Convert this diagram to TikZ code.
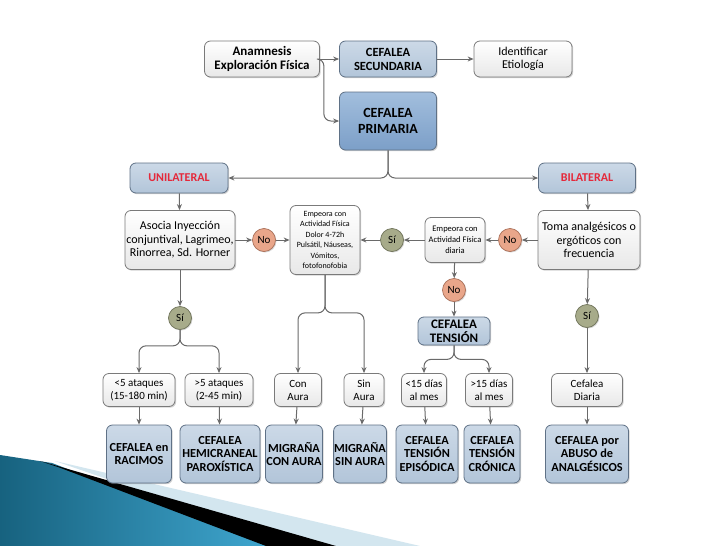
\documentclass[tikz,border=0pt]{standalone}
\usepackage{fontspec}
\setmainfont{Carlito}
\usetikzlibrary{arrows.meta,shadows,positioning}
\definecolor{lnc}{HTML}{6A6A6A}
\definecolor{gbd}{HTML}{7A7A7A}
\definecolor{bbd}{HTML}{5F7186}
\definecolor{bfa}{HTML}{CCD9E7}
\definecolor{bfb}{HTML}{B2C5D9}
\definecolor{pfa}{HTML}{A2BEDD}
\definecolor{pfb}{HTML}{7C9FC8}
\definecolor{ofill}{HTML}{E9A68A}
\definecolor{obd}{HTML}{A96F58}
\definecolor{gfill}{HTML}{A7AB8A}
\definecolor{gbdr}{HTML}{6E7258}
\definecolor{redt}{HTML}{E5283A}
\definecolor{swa}{HTML}{17627F}
\definecolor{swb}{HTML}{3FA6CF}
\definecolor{swl}{HTML}{D3E6EF}
\tikzset{
  base/.style={rounded corners=6pt, line width=0.8pt, align=center, inner sep=1pt,
    drop shadow={opacity=0.35, shadow xshift=1.2pt, shadow yshift=-1.2pt}},
  gbox/.style={base, draw=gbd, top color=white, bottom color=black!9},
  bbox/.style={base, draw=bbd, top color=bfa, bottom color=bfb},
  pbox/.style={base, draw=bbd, top color=pfa, bottom color=pfb, font=\bfseries\fontsize{14}{15.5}\selectfont},
  nocirc/.style={circle, minimum size=23pt, inner sep=0pt, draw=obd, line width=0.7pt, fill=ofill,
    font=\fontsize{11}{11}\selectfont, drop shadow={opacity=0.3, shadow xshift=1pt, shadow yshift=-1pt}},
  sicirc/.style={circle, minimum size=23pt, inner sep=0pt, draw=gbdr, line width=0.7pt, fill=gfill,
    font=\fontsize{11}{11}\selectfont, drop shadow={opacity=0.3, shadow xshift=1pt, shadow yshift=-1pt}},
  arr/.style={draw=lnc, line width=1pt, -{Stealth[length=6pt,width=5pt]}},
  brc/.style={arr, rounded corners=7pt},
  reg/.style={font=\fontsize{12}{13.5}\selectfont},
  r3/.style={gbox, minimum height=33pt, font=\fontsize{11}{13}\selectfont},
  r4/.style={bbox, minimum height=58pt, inner sep=0.5pt, font=\bfseries\fontsize{12.3}{13.5}\selectfont}
}
\begin{document}
\begin{tikzpicture}[x=1pt,y=-1pt]
\useasboundingbox (0,0) rectangle (728,546);
\fill[white] (0,0) rectangle (728,546);
% top
\node[gbox, font=\bfseries\fontsize{13}{14.5}\selectfont, minimum width=115pt, minimum height=36pt] (anam) at (262,59) {Anamnesis\\Exploración Física};
\node[bbox, font=\bfseries\fontsize{12.5}{14}\selectfont, minimum width=97pt, minimum height=36pt] (sec) at (388,59) {CEFALEA\\SECUNDARIA};
\node[gbox, reg, minimum width=98pt, minimum height=36pt] (ident) at (523,59) {Identificar\\Etiología};
\node[pbox, minimum width=97pt, minimum height=58pt] (prim) at (388,121) {CEFALEA\\PRIMARIA};
% second level
\node[bbox, minimum width=98pt, minimum height=30pt, text=redt, font=\bfseries\fontsize{12}{13}\selectfont] (uni) at (179,178) {UNILATERAL};
\node[bbox, minimum width=97pt, minimum height=30pt, text=redt, font=\bfseries\fontsize{12}{13}\selectfont] (bil) at (587,178) {BILATERAL};
\node[gbox, reg, minimum width=110pt, minimum height=59pt] (asoc) at (180,240) {Asocia Inyección\\conjuntival, Lagrimeo,\\Rinorrea, Sd. Horner};
\node[nocirc] (no1) at (264,240) {No};
\node[gbox, font=\fontsize{8}{10.5}\selectfont, minimum width=70pt, minimum height=69pt] (emp1) at (325,240) {Empeora con\\Actividad Física\\Dolor 4-72h\\Pulsátil, Náuseas,\\Vómitos,\\fotofonofobia};
\node[sicirc] (si1) at (392,240) {Sí};
\node[gbox, font=\fontsize{8.5}{11}\selectfont, minimum width=60pt, minimum height=45pt] (emp2) at (455,240) {Empeora con\\Actividad Física\\diaria};
\node[nocirc] (no2) at (510,240) {No};
\node[gbox, reg, minimum width=102pt, minimum height=59pt] (toma) at (589,240) {Toma analgésicos o\\ergóticos con\\frecuencia};
\node[nocirc] (no3) at (454,290) {No};
\node[bbox, font=\bfseries\fontsize{13}{14}\selectfont, minimum width=72pt, minimum height=28pt] (tens) at (454,331) {CEFALEA\\TENSIÓN};
\node[sicirc] (si2) at (180,318) {Sí};
\node[sicirc] (si3) at (587,316) {Sí};
% row 3
\node[r3, minimum width=72pt] (lt5) at (139,390) {<5 ataques\\(15-180 min)};
\node[r3, minimum width=68pt] (gt5) at (219,390) {>5 ataques\\(2-45 min)};
\node[r3, minimum width=47pt] (con) at (298,390) {Con\\Aura};
\node[r3, minimum width=40pt] (sin) at (364,390) {Sin\\Aura};
\node[r3, minimum width=45pt] (lt15) at (424,390) {<15 días\\al mes};
\node[r3, minimum width=47pt] (gt15) at (489,390) {>15 días\\al mes};
\node[r3, minimum width=71pt] (diar) at (587,390) {Cefalea\\Diaria};
% connectors
\draw[arr] (anam) -- (sec);
\draw[arr] (sec) -- (ident);
\draw[brc] (anam.east) -- ++(4,0) |- (prim.west);
\draw[brc] (prim.south) |- (uni.east);
\draw[brc] (prim.south) |- (bil.west);
\draw[arr] (uni) -- (asoc);
\draw[arr] (bil) -- (toma);
\draw[arr] (asoc) -- (no1);
\draw[arr] (no1) -- (emp1);
\draw[arr] (emp2) -- (si1);
\draw[arr] (si1) -- (emp1);
\draw[arr] (toma) -- (no2);
\draw[arr] (no2) -- (emp2);
\draw[arr] (emp2) -- (no3);
\draw[arr] (no3) -- (tens);
\draw[arr] (asoc) -- (si2);
\draw[arr] (toma) -- (si3);
\draw[brc] (si2.south) -- ++(0,16) -| (lt5.north);
\draw[brc] (si2.south) -- ++(0,16) -| (gt5.north);
\draw[brc] (emp1.south) -- ++(0,38) -| (con.north);
\draw[brc] (emp1.south) -- ++(0,38) -| (sin.north);
\draw[brc] (tens.south) -- ++(0,14) -| (lt15.north);
\draw[brc] (tens.south) -- ++(0,14) -| (gt15.north);
\draw[arr] (si3) -- (diar);
% swoosh decoration (drawn before row 4)
\begin{scope}
\fill[swl] (55,461) -- (420,546) -- (300,546) -- cycle;
\shade[left color=swa, right color=swb] (0,455) -- (52,463) -- (268,546) -- (0,546) -- cycle;
\fill[black] (40,461) -- (336,546) -- (266,546) -- (58,467) -- cycle;
\end{scope}
% row 4
\node[r4, minimum width=65pt] (rac) at (139,454) {CEFALEA en\\RACIMOS};
\node[r4, minimum width=80pt] (hemi) at (220,454) {CEFALEA\\HEMICRANEAL\\PAROXÍSTICA};
\node[r4, minimum width=57pt] (mca) at (294,454) {MIGRAÑA\\CON AURA};
\node[r4, minimum width=50pt] (msa) at (360,454) {MIGRAÑA\\SIN AURA};
\node[r4, minimum width=62pt] (epi) at (427,454) {CEFALEA\\TENSIÓN\\EPISÓDICA};
\node[r4, minimum width=56pt] (cro) at (492,454) {CEFALEA\\TENSIÓN\\CRÓNICA};
\node[r4, minimum width=83pt] (abu) at (587,454) {CEFALEA por\\ABUSO de\\ANALGÉSICOS};
\draw[arr] (lt5) -- (rac);
\draw[arr] (gt5) -- (hemi);
\draw[arr] (con) -- (mca);
\draw[arr] (sin) -- (msa);
\draw[arr] (lt15) -- (epi);
\draw[arr] (gt15) -- (cro);
\draw[arr] (diar) -- (abu);
\end{tikzpicture}
\end{document}
